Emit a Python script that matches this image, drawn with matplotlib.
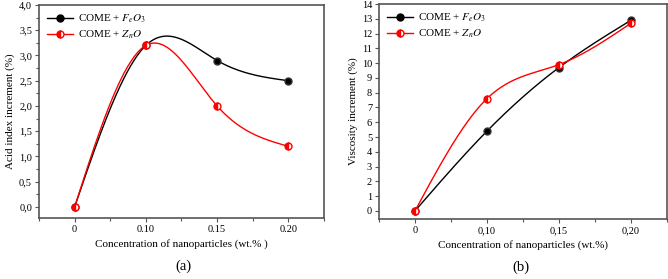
import matplotlib
matplotlib.use("Agg")
import matplotlib.pyplot as plt
import numpy as np
from matplotlib.ticker import MultipleLocator

plt.rcParams['font.family'] = ['Liberation Serif', 'DejaVu Serif']
plt.rcParams['mathtext.fontset'] = 'stix'

conc = ["0", "0.10", "0.15", "0.20"]
conc_b = ["0", "0,10", "0,15", "0,20"]

acid_fe = [0.0, 3.2, 2.9, 2.5]
acid_zn = [0.0, 3.2, 2.0, 1.2]

visc_fe = [0.0, 5.4, 9.7, 12.9]
visc_zn = [0.0, 7.6, 9.9, 12.7]

lab_fe = r"COME + $F_eO_3$"
lab_zn = r"COME + $Z_nO$"


# natural cubic spline through the points (like Origin's spline connect)
def spline(y, n=200):
    y = np.asarray(y, float)
    k = len(y)
    x = np.arange(k)
    A = np.zeros((k, k))
    b = np.zeros(k)
    A[0, 0] = A[-1, -1] = 1
    for i in range(1, k - 1):
        A[i, i - 1:i + 2] = [1, 4, 1]
        b[i] = 6 * (y[i - 1] - 2 * y[i] + y[i + 1])
    M = np.linalg.solve(A, b)
    xs = np.linspace(0, k - 1, n)
    i = np.minimum(xs.astype(int), k - 2)
    t = xs - i
    ys = (y[i] * (1 - t) + y[i + 1] * t
          - t * (1 - t) / 6 * ((2 - t) * M[i] + (1 + t) * M[i + 1]))
    return xs, ys


def panel(ax, yfe, yzn, ylab, xt, ylim, ymaj, ymin, yfmt, tag):
    x = np.arange(len(yfe))
    xs, ys = spline(yfe)
    ax.plot(xs, ys, color='black', lw=1)
    xs, ys = spline(yzn)
    ax.plot(xs, ys, color='red', lw=1)
    ax.plot(x, yfe, 'o', color='black', ms=5, mec='#333333')
    ax.plot(x, yzn, 'o', color='red', ms=5, mec='red', fillstyle='left',
            markerfacecoloralt='white')
    h1, = ax.plot([], [], '-o', color='black', lw=1, ms=5, label=lab_fe)
    h2, = ax.plot([], [], '-o', color='red', lw=1, ms=5, fillstyle='left',
                  markerfacecoloralt='white', label=lab_zn)
    ax.legend(handles=[h1, h2], loc='upper left', frameon=False, fontsize=8,
              handlelength=2.4, handletextpad=0.4, borderaxespad=0.3,
              labelspacing=0.3)
    ax.set_xlim(-0.5, 3.5)
    ax.set_ylim(*ylim)
    ax.set_xticks(x)
    ax.set_xticklabels(xt)
    ax.xaxis.set_minor_locator(MultipleLocator(0.5))
    ax.yaxis.set_major_locator(MultipleLocator(ymaj))
    if ymin:
        ax.yaxis.set_minor_locator(MultipleLocator(ymin))
    ax.set_yticks([v for v in ax.get_yticks() if 0 <= v <= ylim[1] + 1e-9])
    ax.set_yticklabels([yfmt(v) for v in ax.get_yticks()])
    ax.tick_params(labelsize=7.5, direction='out', length=3, width=0.8,
                   color='#555555', pad=2)
    ax.tick_params(which='minor', direction='out', length=2, width=0.8,
                   color='#555555')
    for s in ax.spines.values():
        s.set_color('#555555')
        s.set_linewidth(1.2)
    ax.set_xlabel("Concentration of nanoparticles (wt.%" + (" )" if tag == "(a)" else ")"),
                  fontsize=8, labelpad=4)
    ax.set_ylabel(ylab, fontsize=8, labelpad=3)


fig = plt.figure(figsize=(6.68, 2.79), dpi=100)
ax1 = fig.add_axes([0.0584, 0.2186, 0.4266, 0.7634])
ax2 = fig.add_axes([0.5674, 0.215, 0.431, 0.7706])

panel(ax1, acid_fe, acid_zn, "Acid index increment (%)", conc, (-0.22, 4.0),
      0.5, 0.25, lambda v: f"{v:.1f}".replace('.', ','), "(a)")
panel(ax2, visc_fe, visc_zn, "Viscosity increment (%)", conc_b, (-0.55, 14),
      1, None, lambda v: f"{v:.0f}", "(b)")

fig.text(183 / 668, 1 - 266 / 279, "(a)", ha='center', va='center', fontsize=10.5)
fig.text(521 / 668, 1 - 267 / 279, "(b)", ha='center', va='center', fontsize=10.5)

fig.savefig("out.png", dpi=100)
